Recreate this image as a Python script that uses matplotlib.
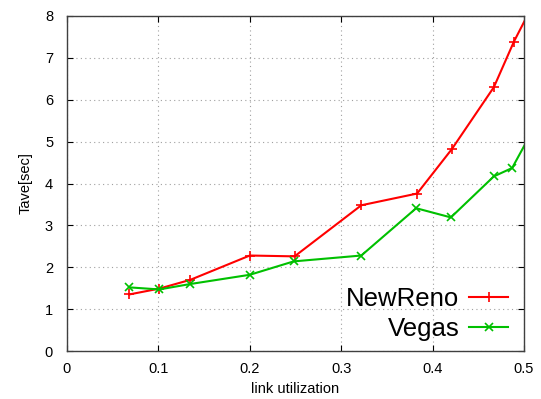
import matplotlib
matplotlib.use("Agg")
import matplotlib.pyplot as plt

newreno_x = [0.068, 0.101, 0.135, 0.200, 0.249, 0.322, 0.383, 0.421, 0.467, 0.489, 0.510]
newreno_y = [1.35, 1.49, 1.70, 2.28, 2.26, 3.48, 3.76, 4.82, 6.30, 7.39, 8.28]
vegas_x = [0.068, 0.101, 0.135, 0.200, 0.248, 0.322, 0.382, 0.420, 0.467, 0.487, 0.510]
vegas_y = [1.52, 1.47, 1.60, 1.82, 2.14, 2.28, 3.41, 3.19, 4.17, 4.37, 5.29]
xticks = [0, 0.1, 0.2, 0.3, 0.4, 0.5]
xticklabels = ["0", "0.1", "0.2", "0.3", "0.4", "0.5"]
yticks = [0, 1, 2, 3, 4, 5, 6, 7, 8]

plt.rcParams['font.family'] = ['Liberation Sans', 'DejaVu Sans']

fig = plt.figure(figsize=(5.41, 3.99), dpi=100)
ax = fig.add_axes([0.1238, 0.1203, 0.8448, 0.8396])

ax.plot(newreno_x, newreno_y, color='#ff0000', lw=1.5, marker='+', ms=7, mew=1.2,
        label='NewReno', clip_on=True)
ax.plot(vegas_x, vegas_y, color='#00c000', lw=1.5, marker='x', ms=5.5, mew=1.2,
        label='Vegas', clip_on=True)

ax.set_xlim(0, 0.5)
ax.set_ylim(0, 8)
ax.set_xticks(xticks)
ax.set_xticklabels(xticklabels)
ax.set_yticks(yticks)
ax.tick_params(direction='in', top=True, right=True, length=4, width=0.8,
               labelsize=10.5, colors='#000000')
ax.tick_params(axis='x', pad=8)
ax.tick_params(axis='y', pad=10)
ax.grid(True, linestyle=(0, (1, 3)), color='#a0a0a0', linewidth=0.8)
for s in ax.spines.values():
    s.set_color('#404040')
    s.set_linewidth(1.0)

ax.set_xlabel('link utilization', fontsize=10.5, labelpad=4)
ax.set_ylabel('Tave[sec]', fontsize=10.5, labelpad=9)

leg = ax.legend(loc='lower right', fontsize=18.5, frameon=False, markerfirst=False,
                handlelength=1.5, handletextpad=0.4, borderaxespad=0, borderpad=0,
                labelspacing=0.25, bbox_to_anchor=(0.965, 0.03))
for t in leg.get_texts():
    t.set_ha('right')

fig.savefig('out.png', dpi=100)
